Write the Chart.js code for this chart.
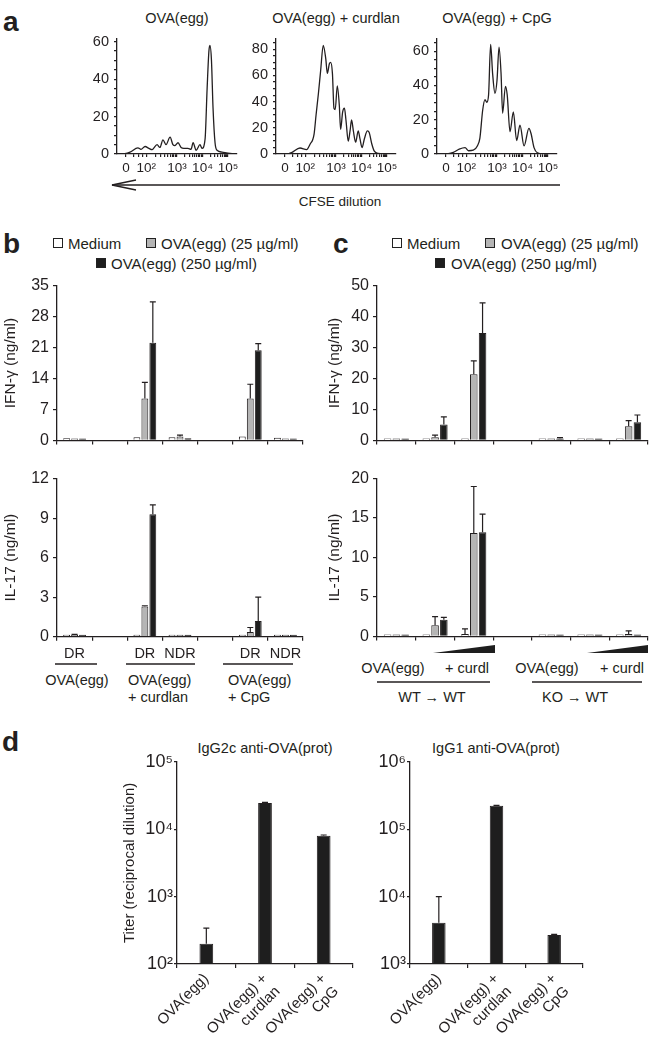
<!DOCTYPE html>
<html>
<head>
<meta charset="utf-8">
<script src="https://cdn.jsdelivr.net/npm/chart.js@4.4.0/dist/chart.umd.min.js"></script>
<style>
  html, body { margin: 0; padding: 0; background: #fff; }
  #fig { position: relative; width: 650px; height: 1044px; overflow: hidden;
         font-family: 'Liberation Sans', Arial, Helvetica, sans-serif; color: #231f20; }
  .t { position: absolute; white-space: nowrap; font-size: 14.5px; line-height: 1; }
  .lg { font-size: 15px; }
  .c { transform: translate(-50%, -50%); }
  .l { transform: translate(0, -50%); }
  .panel { position: absolute; font-weight: bold; font-size: 28px; line-height: 1; transform: translate(0, -50%); }
  .sq { position: absolute; width: 8px; height: 8px; border: 1px solid #222; }
  svg { position: absolute; left: 0; top: 0; }
</style>
</head>
<body>
<div id="fig">
  <!-- panel a -->
  <div class="panel" style="left:3px;top:22px">a</div>
  <div class="t c" style="left:177px;top:18px">OVA(egg)</div>
  <div class="t c" style="left:336px;top:18px">OVA(egg) + curdlan</div>
  <div class="t c" style="left:497px;top:18px">OVA(egg) + CpG</div>
  <div class="t c" style="left:340px;top:202px;font-size:13.5px">CFSE dilution</div>

  <!-- panel b -->
  <div class="panel" style="left:3px;top:244px">b</div>
  <div class="sq" style="left:53px;top:238px;background:#fff"></div>
  <div class="t l lg" style="left:68px;top:243px">Medium</div>
  <div class="sq" style="left:146px;top:238px;background:#b5b5b5"></div>
  <div class="t l lg" style="left:161px;top:243px">OVA(egg) (25 µg/ml)</div>
  <div class="sq" style="left:96px;top:258px;background:#1e1e1e"></div>
  <div class="t l lg" style="left:111px;top:263px">OVA(egg) (250 µg/ml)</div>
  <div class="t c" style="left:77px;top:680px">OVA(egg)</div>
  <div class="t l" style="left:128px;top:680px">OVA(egg)</div>
  <div class="t l" style="left:128px;top:697px">+ curdlan</div>
  <div class="t l" style="left:228px;top:680px">OVA(egg)</div>
  <div class="t l" style="left:228px;top:697px">+ CpG</div>

  <!-- panel c -->
  <div class="panel" style="left:333px;top:244px">c</div>
  <div class="sq" style="left:392px;top:238px;background:#fff"></div>
  <div class="t l lg" style="left:407px;top:243px">Medium</div>
  <div class="sq" style="left:485px;top:238px;background:#b5b5b5"></div>
  <div class="t l lg" style="left:501px;top:243px">OVA(egg) (25 µg/ml)</div>
  <div class="sq" style="left:435px;top:258px;background:#1e1e1e"></div>
  <div class="t l lg" style="left:451px;top:263px">OVA(egg) (250 µg/ml)</div>
  <div class="t c" style="left:393px;top:668px">OVA(egg)</div>
  <div class="t c" style="left:467px;top:668px">+ curdl</div>
  <div class="t c" style="left:432px;top:697px">WT → WT</div>
  <div class="t c" style="left:547px;top:668px">OVA(egg)</div>
  <div class="t c" style="left:622px;top:668px">+ curdl</div>
  <div class="t c" style="left:575px;top:697px">KO → WT</div>

  <!-- panel d -->
  <div class="panel" style="left:2px;top:742px">d</div>
  <div class="t c" style="left:265px;top:748px">IgG2c anti-OVA(prot)</div>
  <div class="t c" style="left:496px;top:748px">IgG1 anti-OVA(prot)</div>

  <svg width="650" height="1044">
    <g stroke="#231f20" stroke-width="1.3" fill="none">
      <line x1="112" y1="185" x2="560" y2="185"/>
      <polyline points="136,180 112,185 136,190"/>
      <line x1="55" y1="664" x2="97" y2="664"/>
      <line x1="126" y1="664" x2="195" y2="664"/>
      <line x1="223" y1="664" x2="293" y2="664"/>
      <line x1="377" y1="682" x2="490" y2="682"/>
      <line x1="532" y1="682" x2="642" y2="682"/>
    </g>
    <g fill="#1e1e1e">
      <polygon points="433,653 495,653 495,645"/>
      <polygon points="587,653 648,653 648,645"/>
    </g>
  </svg>
</div>

<script>
const INK = "#231f20";
const WHITE = "#ffffff";
const GREY = "#b5b5b5";
const BLACK = "#1e1e1e";

Chart.defaults.font.family = "'Liberation Sans', Arial, Helvetica, sans-serif";
Chart.defaults.color = INK;

// ---------- panel a: CFSE histograms ----------
// x = position on the logicle CFSE axis (decade units), y = events
const cfseTickPos = [1.0, 1.8, 3, 4, 5];
const cfseTickLabels = ["0", "10²", "10³", "10⁴", "10⁵"];

const ovaX = [0.65, 0.96, 1.16, 1.47, 1.59, 1.75, 1.90, 2.02, 2.22, 2.33, 2.45, 2.57, 2.73, 2.84, 2.92, 3.04, 3.16, 3.27, 3.43, 3.55, 3.63, 3.75, 3.90, 3.98, 4.10, 4.18, 4.25, 4.29, 4.35, 4.41, 4.49, 4.57, 4.76, 5.08, 5.35];
const ovaY = [0, 0.2, 1, 3.3, 2.5, 4, 3, 2.3, 5, 3.5, 7.5, 5, 9, 5, 4.5, 6, 3.5, 3, 3, 2.5, 6, 2, 5, 3, 8, 35, 55, 58, 50, 25, 6, 2, 1, 0.3, 0];

const curdX = [0.65, 1.15, 1.26, 1.59, 1.85, 1.98, 2.14, 2.22, 2.31, 2.40, 2.50, 2.60, 2.66, 2.74, 2.79, 2.86, 2.92, 2.97, 3.05, 3.13, 3.18, 3.26, 3.33, 3.39, 3.48, 3.55, 3.61, 3.68, 3.77, 3.87, 3.94, 4.02, 4.11, 4.23, 4.30, 4.40, 4.50, 4.66, 5.24];
const curdY = [0, 0.3, 1, 4.6, 3.4, 7.3, 15, 30, 46, 64, 83, 72.7, 61.6, 69, 70, 61.6, 35, 34, 52, 37, 18.8, 32, 35, 26, 9.8, 17.6, 26, 17.6, 9, 17.6, 11.5, 4.9, 11.5, 17.6, 16.4, 7.8, 2.2, 0.5, 0];

const cpgX = [0.65, 1.09, 1.29, 1.52, 1.75, 1.88, 2.07, 2.23, 2.33, 2.44, 2.53, 2.60, 2.67, 2.75, 2.83, 2.92, 3.00, 3.08, 3.16, 3.22, 3.33, 3.40, 3.51, 3.64, 3.77, 3.90, 4.06, 4.25, 4.33, 4.45, 4.58, 4.81, 5.35];
const cpgY = [0, 0.2, 0.9, 2.8, 3.7, 1.9, 2.2, 4.7, 9.3, 25.7, 31.7, 30.2, 34.5, 63.9, 46.6, 35.4, 42.9, 62.4, 46.6, 23.8, 39.5, 34.5, 13, 24.6, 7.8, 16.8, 4.7, 14.9, 12.1, 3.7, 0.7, 0, 0];

// ---------- panel b: IFN-gamma / IL-17 (ng/ml) ----------
const bCats = ["DR", "", "DR", "NDR", "", "DR", "NDR"];
const bIfnMedium = [0.5, null, 0.7, 0.7, null, 0.9, 0.6];
const bIfnOva25 = [0.35, null, 9.5, 0.9, null, 9.5, 0.4];
const bIfnOva250 = [0.3, null, 22.1, 0.5, null, 20.4, 0.3];
const bIfnErr25 = [0, null, 3.6, 0.3, null, 3.2, 0];
const bIfnErr250 = [0, null, 9.2, 0, null, 1.5, 0];
const bIl17Medium = [0.05, null, 0.05, 0.05, null, 0.05, 0.05];
const bIl17Ova25 = [0.12, null, 2.3, 0.05, null, 0.35, 0.05];
const bIl17Ova250 = [0.08, null, 9.3, 0.05, null, 1.2, 0.05];
const bIl17Err25 = [0.05, null, 0.05, 0, null, 0.35, 0];
const bIl17Err250 = [0, null, 0.7, 0, null, 1.8, 0];

// ---------- panel c ----------
const cCats = ["OVA(egg)", "+ curdl (low)", "+ curdl (high)", "", "OVA(egg)", "+ curdl (low)", "+ curdl (high)"];
const cIfnMedium = [0.3, 0.4, 0.4, null, 0.3, 0.3, 0.3];
const cIfnOva25 = [0.3, 1.0, 21.4, null, 0.3, 0.3, 4.6];
const cIfnOva250 = [0.3, 5.1, 34.7, null, 0.6, 0.3, 5.9];
const cIfnErr25 = [0, 0.7, 4.3, null, 0, 0, 1.8];
const cIfnErr250 = [0, 2.5, 9.7, null, 0.3, 0, 2.3];
const cIl17Medium = [0.1, 0.05, 0.3, null, 0.05, 0.05, 0.1];
const cIl17ErrMedium = [0, 0, 0.65, null, 0, 0, 0];
const cIl17Ova25 = [0.15, 1.4, 13.1, null, 0.1, 0.15, 0.3];
const cIl17Err25 = [0, 1.1, 5.9, null, 0, 0, 0.4];
const cIl17Ova250 = [0.1, 2.1, 13.2, null, 0.1, 0.1, 0.1];
const cIl17Err250 = [0, 0.3, 2.3, null, 0, 0, 0];

// ---------- panel d: titers ----------
const dCats = [["OVA(egg)"], ["OVA(egg) +", "curdlan"], ["OVA(egg) +", "CpG"]];
const dIgG2c = [200, 24500, 8000];
const dIgG2cErr = [140, 500, 200];
const dIgG1 = [4100, 222000, 2700];
const dIgG1Err = [5900, 4000, 60];

// ---------- helpers ----------
const errorBars = {
  id: "errorBars",
  afterDatasetsDraw(chart) {
    const ctx = chart.ctx;
    chart.data.datasets.forEach((ds, i) => {
      if (!ds.errors) return;
      const meta = chart.getDatasetMeta(i);
      const yScale = chart.scales[meta.yAxisID];
      meta.data.forEach((bar, j) => {
        const v = ds.data[j];
        const e = ds.errors[j];
        if (v == null || !e) return;
        const yTop = yScale.getPixelForValue(v + e);
        ctx.save();
        ctx.strokeStyle = INK;
        ctx.lineWidth = 1.2;
        ctx.beginPath();
        ctx.moveTo(bar.x, bar.y);
        ctx.lineTo(bar.x, yTop);
        ctx.moveTo(bar.x - 3, yTop);
        ctx.lineTo(bar.x + 3, yTop);
        ctx.stroke();
        ctx.restore();
      });
    });
  },
};

function makeCanvas(box) {
  const cv = document.createElement("canvas");
  cv.width = box.w;
  cv.height = box.h;
  cv.style.cssText = `position:absolute;left:${box.x}px;top:${box.y}px;width:${box.w}px;height:${box.h}px`;
  document.getElementById("fig").appendChild(cv);
  return cv;
}

function axis(opts, tickOpts, gridOpts) {
  return Object.assign(
    {
      border: { display: true, color: INK, width: 1.3 },
      grid: Object.assign({ display: true, drawOnChartArea: false, drawTicks: true, tickLength: 4, color: INK, lineWidth: 1.2 }, gridOpts || {}),
      ticks: Object.assign({ color: INK, font: { size: 14.5 }, padding: 4 }, tickOpts || {}),
    },
    opts
  );
}

function makeChart(box, plot, type, data, scales) {
  const cv = makeCanvas(box);
  const yW = plot.l - box.x;
  const xH = box.y + box.h - plot.b;
  scales.x.afterFit = (s) => { s.height = xH; };
  scales.y.afterFit = (s) => { s.width = yW; };
  return new Chart(cv.getContext("2d"), {
    type: type,
    data: data,
    options: {
      responsive: false,
      animation: false,
      devicePixelRatio: 1,
      layout: { padding: { top: plot.t - box.y, right: box.x + box.w - plot.r, bottom: 0, left: 0 } },
      plugins: { legend: { display: false }, tooltip: { enabled: false } },
      scales: scales,
    },
    plugins: [errorBars],
  });
}

// minor ticks on the CFSE axis
const cfseMinor = [1.3, 1.5, 1.65];
[2, 3, 4, 5, 6, 7, 8, 9].forEach((m) => {
  cfseMinor.push(1.8 + 1.2 * Math.log10(m));
  cfseMinor.push(3 + Math.log10(m));
  cfseMinor.push(4 + Math.log10(m));
});

function histogram(box, plot, xs, ys, yMax, yMajor) {
  const pts = xs.map((x, i) => ({ x: x, y: ys[i] }));
  const yTicks = [];
  for (let v = 0; v <= yMax; v += yMajor / 4) yTicks.push(v);
  const xTicks = cfseMinor.concat(cfseTickPos).sort((a, b) => a - b);
  return makeChart(box, plot, "line",
    { datasets: [{ data: pts, borderColor: INK, borderWidth: 1.3, pointRadius: 0, cubicInterpolationMode: "monotone", fill: false }] },
    {
      x: axis({
        type: "linear", min: 0.65, max: 5.35,
        afterBuildTicks: (s) => { s.ticks = xTicks.map((v) => ({ value: v })); },
      }, {
        font: { size: 13.5 }, padding: 3, autoSkip: false, minRotation: 0, maxRotation: 0,
        callback: (v) => { const i = cfseTickPos.indexOf(v); return i >= 0 ? cfseTickLabels[i] : ""; },
      }, { tickLength: 3 }),
      y: axis({
        type: "linear", min: 0, max: yMax,
        afterBuildTicks: (s) => { s.ticks = yTicks.map((v) => ({ value: v })); },
      }, {
        font: { size: 14.5 }, padding: 5, autoSkip: false,
        callback: (v) => (v % yMajor === 0 ? String(v) : ""),
      }, { tickLength: 3 }),
    });
}

histogram({ x: 60, y: 25, w: 185, h: 165 }, { l: 117, t: 35, r: 237, b: 154 }, ovaX, ovaY, 61.6, 20);
histogram({ x: 220, y: 25, w: 185, h: 165 }, { l: 276, t: 34, r: 396, b: 154 }, curdX, curdY, 88.1, 20);
histogram({ x: 380, y: 25, w: 185, h: 165 }, { l: 437, t: 34, r: 557, b: 154 }, cpgX, cpgY, 67.3, 20);

// ---------- grouped bar panels ----------
function barSet(values, errors, fill) {
  return {
    data: values, errors: errors,
    backgroundColor: fill, borderColor: INK, borderWidth: 1,
    categoryPercentage: 0.68, barPercentage: 0.86, minBarLength: 2,
  };
}

function groupedBars(box, plot, cats, sets, yMax, step, title, showLabels, titlePad) {
  return makeChart(box, plot, "bar",
    { labels: cats, datasets: sets },
    {
      x: axis({ type: "category" }, { display: showLabels, padding: 5, autoSkip: false, maxRotation: 0 }),
      y: axis({
        type: "linear", min: 0, max: yMax,
        title: { display: true, text: title, font: { size: 15.5 }, color: INK, padding: { top: titlePad, bottom: 0 } },
      }, { stepSize: step, padding: 4, font: { size: 16 } }),
    });
}

groupedBars({ x: 0, y: 272, w: 310, h: 182 }, { l: 57, t: 284.3, r: 303, b: 446.7 }, bCats, [
  barSet(bIfnMedium, null, WHITE),
  barSet(bIfnOva25, bIfnErr25, GREY),
  barSet(bIfnOva250, bIfnErr250, BLACK),
], 35, 7, "IFN-γ (ng/ml)", false, 1);

groupedBars({ x: 0, y: 465, w: 310, h: 200 }, { l: 57, t: 477.3, r: 303, b: 636.7 }, bCats, [
  barSet(bIl17Medium, null, WHITE),
  barSet(bIl17Ova25, bIl17Err25, GREY),
  barSet(bIl17Ova250, bIl17Err250, BLACK),
], 12, 3, "IL-17 (ng/ml)", true, 1);

groupedBars({ x: 320, y: 272, w: 330, h: 182 }, { l: 377, t: 283.3, r: 648, b: 446.7 }, cCats, [
  barSet(cIfnMedium, null, WHITE),
  barSet(cIfnOva25, cIfnErr25, GREY),
  barSet(cIfnOva250, cIfnErr250, BLACK),
], 50, 10, "IFN-γ (ng/ml)", false, 5);

groupedBars({ x: 320, y: 465, w: 330, h: 185 }, { l: 377, t: 477.3, r: 648, b: 638.3 }, cCats, [
  barSet(cIl17Medium, cIl17ErrMedium, WHITE),
  barSet(cIl17Ova25, cIl17Err25, GREY),
  barSet(cIl17Ova250, cIl17Err250, BLACK),
], 20, 5, "IL-17 (ng/ml)", false, 5);

// ---------- panel d: log titers ----------
const SUP = { 2: "²", 3: "³", 4: "⁴", 5: "⁵", 6: "⁶" };

function titerChart(box, plot, values, errors, minExp, maxExp, title) {
  const decades = [];
  for (let k = minExp; k <= maxExp; k++) decades.push(Math.pow(10, k));
  return makeChart(box, plot, "bar",
    {
      labels: dCats,
      datasets: [{
        data: values, errors: errors,
        backgroundColor: BLACK, borderColor: INK, borderWidth: 1,
        categoryPercentage: 0.26, barPercentage: 0.9,
      }],
    },
    {
      x: axis({ type: "category" }, { font: { size: 15 }, padding: 2, minRotation: 45, maxRotation: 45, autoSkip: false }),
      y: axis({
        type: "logarithmic", min: decades[0], max: decades[decades.length - 1],
        afterBuildTicks: (s) => { s.ticks = decades.map((v) => ({ value: v })); },
        title: { display: !!title, text: title || "", font: { size: 15 }, color: INK, padding: { top: 4, bottom: 0 } },
      }, {
        font: { size: 18 }, padding: 1, autoSkip: false,
        callback: (v) => "10" + SUP[Math.round(Math.log10(v))],
      }, { tickLength: 3 }),
    });
}

titerChart({ x: 117, y: 750, w: 243, h: 294 }, { l: 177, t: 761.3, r: 353, b: 964 }, dIgG2c, dIgG2cErr, 2, 5, "Titer (reciprocal dilution)");
titerChart({ x: 360, y: 750, w: 240, h: 294 }, { l: 410, t: 761.3, r: 583, b: 964 }, dIgG1, dIgG1Err, 3, 6, null);
</script>
</body>
</html>
